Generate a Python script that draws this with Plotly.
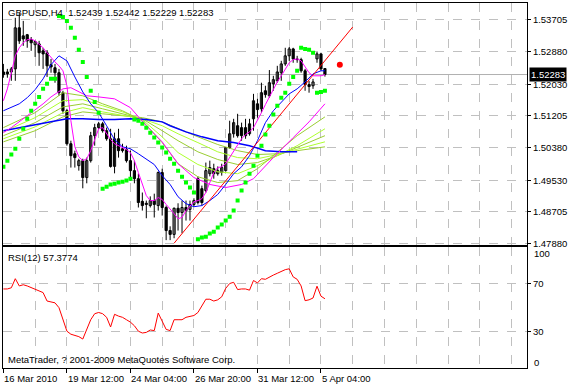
import plotly.graph_objects as go

# ---------------- data ----------------
OPEN = [1.5235, 1.5235, 1.5235, 1.5243, 1.5350, 1.5329, 1.5332, 1.5319, 1.5306, 1.5308,
        1.5290, 1.5285, 1.5254, 1.5246, 1.5233, 1.5181, 1.5134, 1.5048, 1.5022, 1.4991,
        1.5004, 1.4960, 1.5004, 1.5069, 1.5090, 1.5100, 1.5082, 1.5061, 1.4989, 1.5061,
        1.5035, 1.5033, 1.5004, 1.4978, 1.4957, 1.4898, 1.4893, 1.4887, 1.4900, 1.4887,
        1.4973, 1.4882, 1.4822, 1.4812, 1.4880, 1.4869, 1.4882, 1.4877, 1.4890, 1.4957,
        1.4931, 1.4926, 1.4970, 1.4983, 1.4970, 1.4973, 1.4978, 1.5038, 1.5074, 1.5095,
        1.5090, 1.5090, 1.5074, 1.5113, 1.5152, 1.5139, 1.5186, 1.5173, 1.5204, 1.5212,
        1.5233, 1.5256, 1.5277, 1.5295, 1.5269, 1.5267, 1.5238, 1.5202, 1.5199, 1.5269,
        1.5282, 1.52439]
HIGH = [1.5256, 1.5243, 1.5248, 1.5376, 1.5389, 1.5368, 1.5334, 1.5326, 1.5316, 1.5316,
        1.5298, 1.5292, 1.5269, 1.5256, 1.5243, 1.5186, 1.5139, 1.5056, 1.5030, 1.5009,
        1.5009, 1.5012, 1.5079, 1.5100, 1.5105, 1.5105, 1.5090, 1.5087, 1.5077, 1.5087,
        1.5048, 1.5043, 1.5030, 1.5004, 1.4970, 1.4921, 1.4900, 1.4911, 1.4918, 1.4976,
        1.4983, 1.4887, 1.4833, 1.4882, 1.4893, 1.4900, 1.4900, 1.4900, 1.4906, 1.4963,
        1.4939, 1.4999, 1.5004, 1.4996, 1.4989, 1.4996, 1.5038, 1.5108, 1.5113, 1.5126,
        1.5103, 1.5113, 1.5113, 1.5178, 1.5165, 1.5207, 1.5199, 1.5240, 1.5225, 1.5251,
        1.5264, 1.5298, 1.5300, 1.5298, 1.5277, 1.5272, 1.5243, 1.5212, 1.5217, 1.5287,
        1.5285, 1.52442]
LOW = [1.5220, 1.5220, 1.5212, 1.5212, 1.5308, 1.5303, 1.5298, 1.5290, 1.5274, 1.5251,
       1.5243, 1.5222, 1.5233, 1.5207, 1.5173, 1.5126, 1.5043, 1.4986, 1.4986, 1.4978,
       1.4932, 1.4945, 1.4999, 1.5043, 1.5087, 1.5077, 1.5056, 1.4986, 1.4971, 1.5012,
       1.5025, 1.4999, 1.4952, 1.4945, 1.4882, 1.4874, 1.4854, 1.4882, 1.4856, 1.4874,
       1.4861, 1.4797, 1.4797, 1.4802, 1.4822, 1.4815, 1.4848, 1.4848, 1.4885, 1.4890,
       1.4887, 1.4921, 1.4963, 1.4957, 1.4965, 1.4965, 1.4976, 1.5035, 1.5064, 1.5064,
       1.5056, 1.5061, 1.5069, 1.5082, 1.5116, 1.5129, 1.5168, 1.5168, 1.5186, 1.5207,
       1.5212, 1.5251, 1.5264, 1.5259, 1.5259, 1.5233, 1.5186, 1.5181, 1.5191, 1.5259,
       1.5238, 1.52229]
CLOSE = [1.5228, 1.5230, 1.5243, 1.5350, 1.5316, 1.5321, 1.5316, 1.5311, 1.5314, 1.5285,
         1.5282, 1.5251, 1.5248, 1.5233, 1.5181, 1.5134, 1.5048, 1.5017, 1.5012, 1.5004,
         1.4960, 1.5004, 1.5069, 1.5090, 1.5100, 1.5082, 1.5061, 1.4989, 1.5061, 1.5030,
         1.5030, 1.5004, 1.4978, 1.4957, 1.4895, 1.4887, 1.4890, 1.4900, 1.4890, 1.4973,
         1.4882, 1.4822, 1.4812, 1.4880, 1.4869, 1.4882, 1.4874, 1.4890, 1.4900, 1.4895,
         1.4895, 1.4978, 1.4986, 1.4970, 1.4978, 1.4986, 1.5038, 1.5074, 1.5103, 1.5069,
         1.5069, 1.5069, 1.5100, 1.5160, 1.5137, 1.5181, 1.5176, 1.5207, 1.5215, 1.5235,
         1.5256, 1.5277, 1.5295, 1.5269, 1.5267, 1.5238, 1.5202, 1.5197, 1.5209, 1.5282,
         1.5243, 1.52283]
BARS = list(range(len(OPEN)))

# fast magenta moving average (one value per bar)
MA_MAGENTA_FAST = [1.5160, 1.5191, 1.5233, 1.5277, 1.5298, 1.5311, 1.5319, 1.5321, 1.5316, 1.5308,
                   1.5298, 1.5285, 1.5272, 1.5261, 1.5251, 1.5238, 1.5199, 1.5108, 1.5040, 1.5014,
                   1.5004, 1.5009, 1.5030, 1.5061, 1.5087, 1.5090, 1.5074, 1.5059, 1.5048, 1.5043,
                   1.5038, 1.5033, 1.5025, 1.5004, 1.4973, 1.4944, 1.4913, 1.4900, 1.4900, 1.4908,
                   1.4903, 1.4890, 1.4879, 1.4866, 1.4853, 1.4856, 1.4874, 1.4887, 1.4897, 1.4900,
                   1.4905, 1.4921, 1.4947, 1.4973, 1.4986, 1.4988, 1.4996, 1.5012, 1.5030, 1.5046,
                   1.5061, 1.5072, 1.5079, 1.5090, 1.5108, 1.5129, 1.5150, 1.5170, 1.5191, 1.5209,
                   1.5225, 1.5243, 1.5259, 1.5267, 1.5269, 1.5264, 1.5248, 1.5233, 1.5225, 1.5225,
                   1.5225, 1.5228]

MA_BLUE_FAST_IDX = [0, 2, 4, 6, 8, 10, 12, 14, 16, 18, 20, 22, 24, 26, 28, 30, 32, 34, 36, 38, 40,
                    42, 44, 46, 48, 50, 52, 54, 56, 58, 60, 62, 64, 66, 68, 70, 72, 74, 76, 78, 80, 81]
MA_BLUE_FAST = [1.5134, 1.5142, 1.5152, 1.5168, 1.5189, 1.5217, 1.5254, 1.5277, 1.5264, 1.5222,
                1.5183, 1.5152, 1.5129, 1.5095, 1.5059, 1.5040, 1.5035, 1.5022, 1.5009, 1.4994,
                1.4965, 1.4942, 1.4910, 1.4892, 1.4884, 1.4887, 1.4900, 1.4916, 1.4942, 1.4970,
                1.4988, 1.5017, 1.5056, 1.5103, 1.5134, 1.5155, 1.5178, 1.5191, 1.5209, 1.5230,
                1.5238, 1.5238]

MA_BLUE_SLOW_IDX = [0, 4, 8, 12, 16, 20, 24, 28, 32, 36, 40, 42, 46, 50, 54, 58, 62, 66, 70, 74]
MA_BLUE_SLOW = [1.5082, 1.5090, 1.5098, 1.5105, 1.5113, 1.5113, 1.5111, 1.5111, 1.5113, 1.5111,
                1.5105, 1.5095, 1.5079, 1.5066, 1.5056, 1.5051, 1.5043, 1.5030, 1.5027, 1.5027]

MA_MAGENTA_SLOW_IDX = [0, 2, 6, 10, 12, 15, 17, 19, 21, 24, 28, 32, 36, 40, 44, 48, 52, 56, 60,
                       63, 68, 73, 77, 81]
MA_MAGENTA_SLOW = [1.5077, 1.5090, 1.5121, 1.5152, 1.5170, 1.5191, 1.5194, 1.5183, 1.5173, 1.5170,
                   1.5165, 1.5142, 1.5095, 1.5053, 1.4996, 1.4960, 1.4942, 1.4934, 1.4942, 1.4957,
                   1.5012, 1.5064, 1.5105, 1.5152]

GREEN_IDX = [0, 8, 15, 20, 25, 30, 35, 40, 44, 49, 54, 59, 64, 69, 74, 81]
GREEN_1 = [1.5090, 1.5129, 1.5181, 1.5173, 1.5152, 1.5134, 1.5108, 1.5051, 1.4996, 1.4962,
           1.4947, 1.4952, 1.4983, 1.5025, 1.5069, 1.5118]
GREEN_2 = [1.5079, 1.5116, 1.5160, 1.5163, 1.5147, 1.5131, 1.5111, 1.5066, 1.5025, 1.4994,
           1.4975, 1.4970, 1.4991, 1.5017, 1.5043, 1.5087]
GREEN_3 = [1.5069, 1.5103, 1.5144, 1.5152, 1.5139, 1.5126, 1.5113, 1.5082, 1.5056, 1.5027,
           1.5007, 1.4994, 1.4999, 1.5017, 1.5038, 1.5069]
GREEN_4 = [1.5061, 1.5092, 1.5129, 1.5142, 1.5131, 1.5121, 1.5113, 1.5095, 1.5074, 1.5051,
           1.5027, 1.5012, 1.5009, 1.5020, 1.5033, 1.5053]
GREEN_5 = [1.5053, 1.5082, 1.5118, 1.5131, 1.5126, 1.5121, 1.5116, 1.5105, 1.5087, 1.5066,
           1.5046, 1.5030, 1.5020, 1.5022, 1.5030, 1.5040]

SAR = [1.4988, 1.5004, 1.5020, 1.5035, 1.5061, 1.5087, 1.5113, 1.5134, 1.5152, 1.5170,
       1.5191, 1.5204, 1.5217, 1.5217,
       1.5381, 1.5378, 1.5368, 1.5350, 1.5324, 1.5293, 1.5261, 1.5222, 1.5186, 1.5157, 1.5129,
       1.4931, 1.4936, 1.4942, 1.4944, 1.4947, 1.4949, 1.4952, 1.4957,
       1.5111, 1.5108, 1.5100, 1.5090, 1.5077, 1.5064, 1.5051, 1.5038, 1.5025, 1.5009, 1.4996,
       1.4978, 1.4962, 1.4947, 1.4934, 1.4921,
       1.4799, 1.4804, 1.4806, 1.4814, 1.4819, 1.4830, 1.4838, 1.4848, 1.4858, 1.4874, 1.4900,
       1.4926, 1.4947, 1.4970, 1.4991, 1.5017, 1.5043, 1.5072, 1.5095, 1.5124, 1.5147, 1.5168,
       1.5181, 1.5204, 1.5222, 1.5238,
       1.5298, 1.5295, 1.5293, 1.5285,
       1.5181, 1.5183, 1.5186]

TREND_IDX = [43, 88]
TREND_PRICE = [1.4789, 1.5352]
RED_DOT_IDX = [84.75]
RED_DOT_PRICE = [1.5254]

RSI = [65.5, 65.5, 66.5, 74, 68, 69, 68, 66.5, 65, 63.5,
       62.5, 55.5, 55, 54, 50, 41, 30.5, 28, 27, 26,
       24, 31.5, 40, 45, 46, 45, 42, 34, 44.5, 43,
       42, 40, 38, 35, 30.5, 29, 29.5, 31.5, 31, 45.5,
       38, 32, 31, 40, 40, 40, 42, 43, 43.5, 46,
       51, 57, 57, 55.5, 56.5, 59, 66, 70, 71, 65,
       65.5, 65.5, 64.5, 72.5, 70.5, 74, 73.5, 75.5, 77, 78.5,
       80, 81.5, 82.2, 75.5, 73.5, 68, 55.8, 56.5, 58, 67.8,
       59.5, 57.3774]

PRICE_TICKS = [1.53705, 1.52880, 1.52030, 1.51205, 1.50380, 1.49530, 1.48705, 1.47880]
RSI_TICKS = [70, 30]
TIME_TICK_IDX = [0, 16, 32, 48, 64, 80]
TIME_TICK_LABELS = ["16 Mar 2010", "19 Mar 12:00", "24 Mar 04:00", "26 Mar 20:00",
                    "31 Mar 12:00", "5 Apr 04:00"]
SYMBOL = "GBPUSD,H4"

# ---------------- figure ----------------
FONT = "Liberation Sans, Arial, sans-serif"
GRID = "#c0c0c0"
fig = go.Figure()

body_base = [min(o, c) for o, c in zip(OPEN, CLOSE)]
body_h = [abs(c - o) for o, c in zip(OPEN, CLOSE)]
body_col = ["white" if c >= o else "black" for o, c in zip(OPEN, CLOSE)]

wx, wy = [], []
for i, lo, hi in zip(BARS, LOW, HIGH):
    wx += [i, i, None]
    wy += [lo, hi, None]
fig.add_trace(go.Scatter(x=wx, y=wy, mode="lines", line=dict(color="black", width=1),
                         hoverinfo="skip", xaxis="x", yaxis="y"))
fig.add_trace(go.Bar(x=BARS, y=body_h, base=body_base, width=0.55,
                     marker=dict(color=body_col, line=dict(color="black", width=1)),
                     hoverinfo="skip", xaxis="x", yaxis="y"))

def line(xs, ys, color, width=1):
    fig.add_trace(go.Scatter(x=xs, y=ys, mode="lines", line=dict(color=color, width=width),
                             hoverinfo="skip", xaxis="x", yaxis="y"))

line(GREEN_IDX, GREEN_5, "#9ACD32")
line(GREEN_IDX, GREEN_4, "#ADFF2F")
line(GREEN_IDX, GREEN_3, "#9ACD32")
line(GREEN_IDX, GREEN_2, "#ADFF2F")
line(GREEN_IDX, GREEN_1, "#9ACD32")
line(MA_BLUE_SLOW_IDX, MA_BLUE_SLOW, "#0000FF", 1.5)
line(MA_MAGENTA_SLOW_IDX, MA_MAGENTA_SLOW, "#FF00FF")
line(MA_BLUE_FAST_IDX, MA_BLUE_FAST, "#0000FF")
line(BARS, MA_MAGENTA_FAST, "#FF00FF")
line(TREND_IDX, TREND_PRICE, "#FF0000")

fig.add_trace(go.Scatter(x=BARS, y=SAR, mode="markers",
                         marker=dict(color="#00FF00", size=4, symbol="square",
                                     line=dict(width=0)),
                         hoverinfo="skip", xaxis="x", yaxis="y"))
fig.add_trace(go.Scatter(x=RED_DOT_IDX, y=RED_DOT_PRICE, mode="markers",
                         marker=dict(color="#FF0000", size=6), hoverinfo="skip",
                         xaxis="x", yaxis="y"))

fig.add_trace(go.Scatter(x=BARS, y=RSI, mode="lines", line=dict(color="#FF0000", width=1),
                         hoverinfo="skip", xaxis="x2", yaxis="y2"))

fig.add_shape(type="line", xref="x domain", yref="y", x0=0, x1=1, y0=CLOSE[-1], y1=CLOSE[-1],
              line=dict(color="#b0b0b0", width=1), layer="below")

XR = [-0.1, 131.9]
xgrid = dict(showgrid=True, gridcolor=GRID, griddash="dash", gridwidth=1,
             minor=dict(tickmode="linear", tick0=0, dtick=8, showgrid=True, gridcolor=GRID,
                        griddash="dash", gridwidth=1, ticks=""),
             showline=True, mirror=True, linecolor="black", linewidth=1, zeroline=False)

fig.update_layout(
    width=569, height=385,
    margin=dict(l=3, r=38, t=2, b=17),
    paper_bgcolor="white", plot_bgcolor="white",
    showlegend=False,
    font=dict(family=FONT, size=9.5, color="black"),
    xaxis=dict(domain=[0, 1], anchor="y", range=XR, tickmode="array", tickvals=TIME_TICK_IDX,
               showticklabels=False, ticks="", **xgrid),
    xaxis2=dict(domain=[0, 1], anchor="y2", range=XR, matches="x", tickmode="array",
                tickvals=TIME_TICK_IDX, showticklabels=False, ticks="outside", ticklen=4,
                tickcolor="black", tickwidth=1, **xgrid),
    yaxis=dict(domain=[0.3361, 1], range=[1.47835, 1.54146], side="right",
               tickmode="array", tickvals=PRICE_TICKS,
               ticktext=[f"{v:.5f}" for v in PRICE_TICKS],
               ticks="outside", ticklen=3, tickcolor="black",
               showgrid=True, gridcolor=GRID, griddash="dash",
               showline=True, mirror=True, linecolor="black", zeroline=False),
    yaxis2=dict(domain=[0, 0.3306], range=[0, 100], side="right",
                tickmode="array", tickvals=RSI_TICKS, ticktext=[str(v) for v in RSI_TICKS],
                ticks="outside", ticklen=3, tickcolor="black",
                showgrid=True, gridcolor=GRID, griddash="dash",
                showline=True, mirror=True, linecolor="black", zeroline=False),
    bargap=0,
)

ann = []
ann.append(dict(xref="paper", yref="paper", x=0, y=1, xshift=3, yshift=-9,
                xanchor="left", yanchor="middle", showarrow=False,
                text=f"{SYMBOL}\u00a0\u00a0{OPEN[-1]:.5f} {HIGH[-1]:.5f} {LOW[-1]:.5f} {CLOSE[-1]:.5f}"))
ann.append(dict(xref="paper", yref="paper", x=0, y=0.3306, xshift=3, yshift=-10,
                xanchor="left", yanchor="middle", showarrow=False,
                text=f"RSI(12) {RSI[-1]:.4f}"))
ann.append(dict(xref="paper", yref="paper", x=0, y=0, xshift=3, yshift=9,
                xanchor="left", yanchor="middle", showarrow=False,
                text="MetaTrader, ? 2001-2009 MetaQuotes Software Corp."))
ann.append(dict(xref="paper", yref="y2", x=1, y=100, xshift=5, yshift=-6,
                xanchor="left", yanchor="middle", showarrow=False, text="100"))
ann.append(dict(xref="paper", yref="y2", x=1, y=0, xshift=5, yshift=6,
                xanchor="left", yanchor="middle", showarrow=False, text="0"))
for i, lab in zip(TIME_TICK_IDX, TIME_TICK_LABELS):
    ann.append(dict(xref="x2", yref="paper", x=i, y=0, xshift=-1, yshift=-10,
                    xanchor="left", yanchor="middle", showarrow=False, text=lab))
ann.append(dict(xref="paper", yref="y", x=1, y=CLOSE[-1], xshift=2,
                xanchor="left", yanchor="middle", showarrow=False,
                text=f"{CLOSE[-1]:.5f}", bgcolor="black", borderpad=1,
                font=dict(color="white", family=FONT, size=9.5)))
fig.update_layout(annotations=ann)

fig.write_html("out.html",
               config={"displayModeBar": False, "staticPlot": True},
               post_script="document.body.style.margin='0px';"
                           "document.body.style.overflow='hidden';")
